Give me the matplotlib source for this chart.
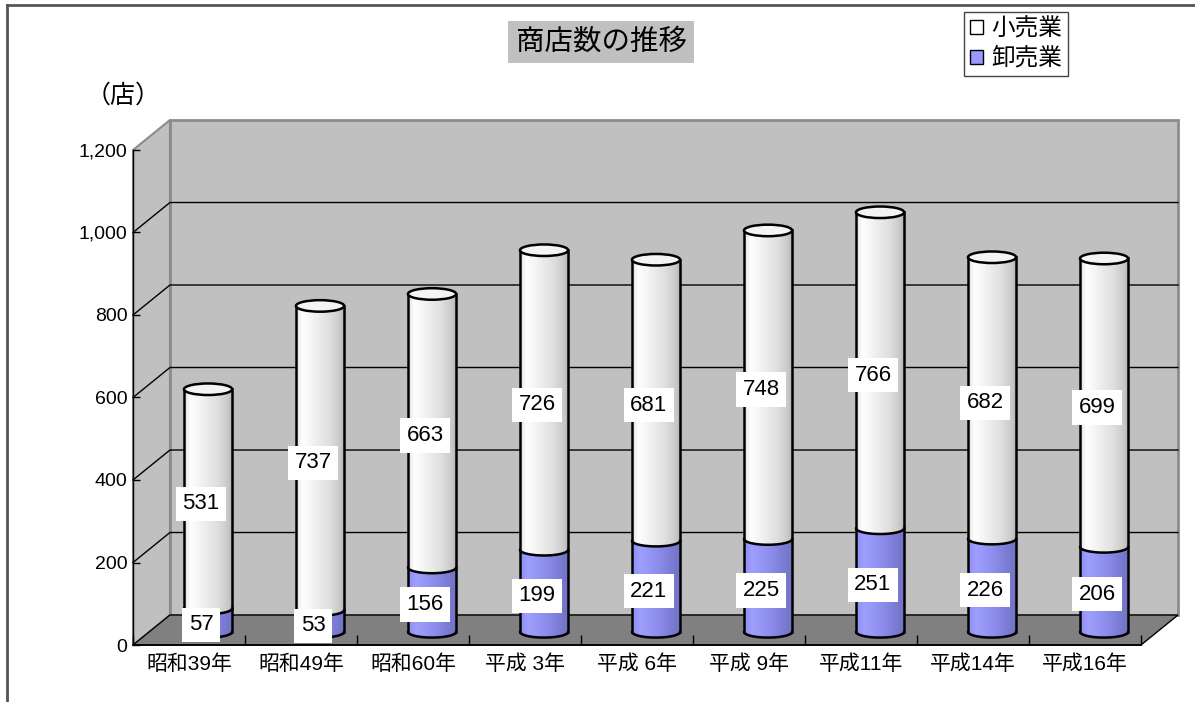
import numpy as np
import matplotlib.pyplot as plt
from matplotlib.patches import Polygon, Ellipse, Patch
from matplotlib.lines import Line2D
from matplotlib.ticker import FuncFormatter

plt.rcParams['font.family'] = ['Liberation Sans', 'Noto Sans CJK JP', 'DejaVu Sans']

# data
years = ['昭和39年', '昭和49年', '昭和60年', '平成 3年', '平成 6年',
         '平成 9年', '平成11年', '平成14年', '平成16年']
wholesale = [57, 53, 156, 199, 221, 225, 251, 226, 206]   # 卸売業
retail = [531, 737, 663, 726, 681, 748, 766, 682, 699]    # 小売業
yticks = [0, 200, 400, 600, 800, 1000, 1200]

# 3d look, in data units
DX, DY = 0.33, 72.7          # depth of the box
CDX, CDY = 0.17, 32.0        # cylinder position in depth
RX, RY = 0.215, 14.0         # cylinder radius / ellipse half height
LDX, LDY = 0.107, 20.0       # label anchor

fig = plt.figure(figsize=(11.95, 7.02), dpi=100)
ax = fig.add_axes([133 / 1195, 57 / 702, 1008 / 1195, 495 / 702])
ax.patch.set_visible(False)
n = len(years)

# walls and floor
side = Polygon([(0, 0), (DX, DY), (DX, 1200 + DY), (0, 1200)], closed=True,
               facecolor='#c0c0c0', edgecolor='#8c8c8c', lw=1.5, zorder=0, clip_on=False)
back = Polygon([(DX, DY), (n + DX, DY), (n + DX, 1200 + DY), (DX, 1200 + DY)], closed=True,
               facecolor='#c0c0c0', edgecolor='#8c8c8c', lw=2, zorder=0, clip_on=False)
floor = Polygon([(0, 0), (n, 0), (n + DX, DY), (DX, DY)], closed=True,
                facecolor='#808080', edgecolor='black', lw=1, zorder=0.5, clip_on=False)
for p in (side, back, floor):
    ax.add_patch(p)
for v in yticks[1:-1]:
    ax.plot([0, DX, n + DX], [v, v + DY, v + DY], color='black', lw=1, zorder=0.3, clip_on=False)


def shade(colors, pos):
    return np.array([np.interp(pos, [p for p, _ in colors], [c[k] for _, c in colors]) for k in range(3)])


white_grad = [(0.0, (0.88, 0.88, 0.88)), (0.12, (1.0, 1.0, 1.0)), (0.35, (0.95, 0.95, 0.95)),
              (0.7, (0.87, 0.87, 0.87)), (0.92, (0.78, 0.78, 0.78)), (1.0, (0.68, 0.68, 0.68))]
blue_grad = [(0.0, (0.56, 0.56, 0.95)), (0.15, (0.62, 0.62, 1.0)), (0.4, (0.58, 0.58, 0.96)),
             (0.75, (0.50, 0.50, 0.86)), (1.0, (0.44, 0.44, 0.76))]

t = np.linspace(0, np.pi, 40)


def segment(cx, y0, y1, grad, z):
    # body: lower arc at bottom, straight at top
    arc_x = cx - RX * np.cos(t)
    arc_y = y0 - RY * np.sin(t)
    verts = list(zip(arc_x, arc_y)) + [(cx + RX, y1), (cx - RX, y1)]
    poly = Polygon(verts, closed=True, facecolor='none', edgecolor='none', zorder=z)
    ax.add_patch(poly)
    grad_img = np.array([[shade(grad, p) for p in np.linspace(0, 1, 60)]])
    im = ax.imshow(grad_img, extent=[cx - RX, cx + RX, y0 - RY, y1], aspect='auto',
                   zorder=z, interpolation='bilinear')
    im.set_clip_path(poly)
    ax.plot(arc_x, arc_y, color='black', lw=1.8, zorder=z + 0.1, solid_capstyle='round')
    ax.plot([cx - RX, cx - RX], [y0, y1], color='black', lw=1.8, zorder=z + 0.1)
    ax.plot([cx + RX, cx + RX], [y0, y1], color='black', lw=1.8, zorder=z + 0.1)


for i in range(n):
    cx = i + 0.5 + CDX
    base = CDY
    h1 = base + wholesale[i]
    h2 = h1 + retail[i]
    z = 2 + i
    segment(cx, base, h1, blue_grad, z)
    segment(cx, h1, h2, white_grad, z + 0.2)
    ax.add_patch(Ellipse((cx, h2), 2 * RX, 2 * RY, facecolor='#f4f4f4', edgecolor='black',
                         lw=1.8, zorder=z + 0.4))
    lx = i + 0.5 + LDX
    for v, y in ((wholesale[i], LDY + wholesale[i] / 2), (retail[i], LDY + wholesale[i] + retail[i] / 2)):
        ax.text(lx, y, str(v), ha='center', va='center', fontsize=16, zorder=z + 0.5,
                bbox=dict(boxstyle='square,pad=0.3', facecolor='white', edgecolor='none'))

ax.set_xlim(0, n)
ax.set_ylim(0, 1200)
for s in ('top', 'right'):
    ax.spines[s].set_visible(False)
ax.spines['left'].set_linewidth(1)
ax.spines['bottom'].set_linewidth(1.2)
ax.set_yticks(yticks)
ax.yaxis.set_major_formatter(FuncFormatter(lambda v, _: f'{int(v):,}'))
ax.tick_params(axis='y', direction='in', length=5, width=1, labelsize=14, pad=4)
ax.set_xticks(np.arange(n + 1))
ax.set_xticklabels([])
ax.set_xticks(np.arange(n) + 0.5, minor=True)
ax.set_xticklabels(years, minor=True)
ax.tick_params(axis='x', which='major', direction='in', length=7, width=1)
ax.tick_params(axis='x', which='minor', length=0, labelsize=15, pad=7)

# title, unit, legend
fig.text(601 / 1195, 1 - 42 / 702, '商店数の推移', ha='center', va='center', fontsize=20.5,
         bbox=dict(boxstyle='square,pad=0.28', facecolor='#c0c0c0', edgecolor='none'))
fig.text(86 / 1195, 1 - 96 / 702, '（店）', ha='left', va='center', fontsize=18)
handles = [Patch(facecolor='white', edgecolor='black', label='小売業'),
           Patch(facecolor='#9999ff', edgecolor='black', label='卸売業')]
leg = fig.legend(handles=handles, loc='upper left', bbox_to_anchor=(964 / 1195, 1 - 12 / 702),
                 fontsize=17, frameon=True, fancybox=False, framealpha=1, edgecolor='#444444',
                 handlelength=0.55, handleheight=0.55, handletextpad=0.35, borderpad=0.25,
                 labelspacing=0.3, borderaxespad=0)
leg.get_frame().set_linewidth(1)

# outer frame
fig.add_artist(Line2D([7 / 1195, 7 / 1195], [0, 1 - 5 / 702], transform=fig.transFigure,
                      color='#555555', lw=2))
fig.add_artist(Line2D([7 / 1195, 1], [1 - 5 / 702, 1 - 5 / 702], transform=fig.transFigure,
                      color='#555555', lw=2))

fig.savefig('out.png', dpi=100)
